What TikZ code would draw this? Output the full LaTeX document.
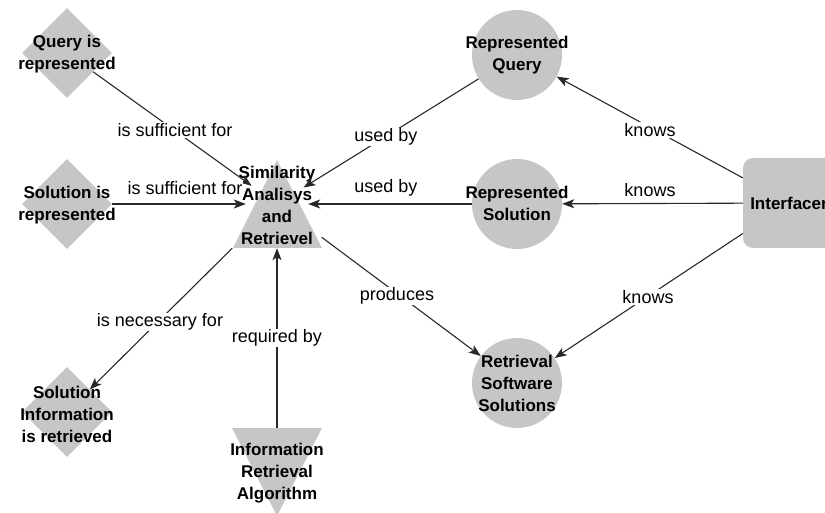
\documentclass[tikz,border=0pt]{standalone}
\usepackage{fontspec}
\setmainfont{Liberation Sans}
\usetikzlibrary{arrows.meta,shapes.geometric}
\definecolor{shapegray}{RGB}{198,198,198}
\definecolor{linegray}{RGB}{40,40,40}
\begin{document}
\begin{tikzpicture}[x=1pt,y=-1pt,
  shp/.style={fill=shapegray,draw=none,inner sep=0pt},
  dia/.style={shp,diamond,minimum width=90pt,minimum height=90pt},
  circ/.style={shp,circle,minimum size=90pt},
  ghost/.style={draw=none,fill=none,inner sep=0pt},
  btxt/.style={font=\fontsize{17}{22}\selectfont\bfseries,align=center,inner sep=0pt},
  lbl/.style={font=\fontsize{18}{22}\selectfont,fill=white,inner sep=1pt},
  con/.style={line width=1.1pt,draw=linegray},
  arr/.style={con,-{Stealth[length=12pt,width=9pt,inset=3pt]}}
]
\useasboundingbox (0,0) rectangle (825,513);

% shapes
\node[dia] (qr) at (67,53) {};
\node[dia] (sr) at (67,204) {};
\node[dia] (sir) at (67,412) {};
\node[circ] (rq) at (517,55) {};
\node[circ] (rs) at (517,204) {};
\node[circ] (rss) at (517,383) {};
\node[shp,rectangle,rounded corners=10pt,minimum width=92pt,minimum height=90pt] (ifc) at (789,203) {};
\fill[shapegray] (233,248) -- (277,160) -- (322,248) -- cycle;
\fill[shapegray] (232,428) -- (322,428) -- (277,516) -- cycle;
\node[ghost,circle,minimum size=62pt] (sim) at (277,204) {};
\node[ghost,rectangle,minimum width=89pt,minimum height=88pt] (simbox) at (277,204) {};
\node[ghost,rectangle,minimum width=90pt,minimum height=88pt] (ira) at (277,472) {};

% node texts
\node[btxt] (qrt) at (67,54) {Query is\\represented};
\node[btxt] (srt) at (67,205) {Solution is\\represented};
\node[btxt] (sirt) at (67,414) {Solution\\Information\\is retrieved};
\node[btxt] (rqt) at (517,55) {Represented\\Query};
\node[btxt] (rst) at (517,203) {Represented\\Solution};
\node[btxt] (rsst) at (517,383) {Retrieval\\Software\\Solutions};
\node[btxt] (simt) at (277,205) {Similarity\\Analisys\\and\\Retrievel};
\node[btxt] (irat) at (277,473) {Information\\Retrieval\\Algorithm};
\node[btxt] (ifct) at (789,203) {Interfacer};

% connectors
\draw[arr] (qr) -- (sim);
\draw[arr] (sr) -- (sim);
\draw[arr] (rq) -- (sim);
\draw[arr] (rs) -- (sim);
\draw[arr] (ira) -- (simbox);
\draw[arr] (simbox) -- (rss);
\draw[arr] (simbox) -- (sir);
\draw[arr] (ifc) -- (rq);
\draw[arr] (ifc) -- (rs);
\draw[arr] (ifc) -- (rss);

% connector labels
\node[lbl] (l1) at (175,130) {is sufficient for};
\node[lbl] (l2) at (185,188) {is sufficient for};
\node[lbl] (l3) at (386,137) {used by};
\node[lbl] (l4) at (386,188) {used by};
\node[lbl] (l5) at (650,130) {knows};
\node[lbl] (l6) at (650,190) {knows};
\node[lbl] (l7) at (648,297) {knows};
\node[lbl] (l8) at (397,296) {produces};
\node[lbl] (l9) at (160,322) {is necessary for};
\node[lbl] (l10) at (277,338) {required by};
\end{tikzpicture}
\end{document}
